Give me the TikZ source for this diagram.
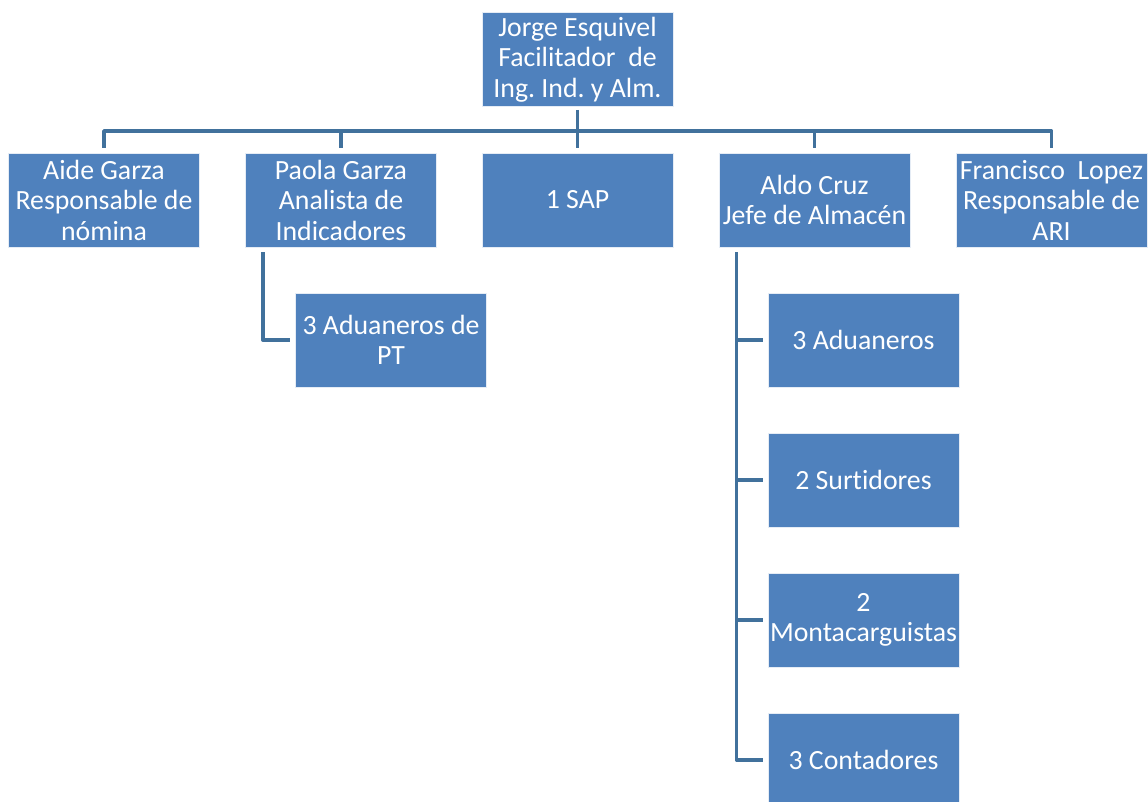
\documentclass[tikz,border=0pt]{standalone}
\usepackage{fontspec}
\setmainfont{Carlito}[Ligatures={NoCommon}]
\frenchspacing
\definecolor{boxblue}{HTML}{4F81BD}
\definecolor{linkblue}{HTML}{41719C}
\tikzset{
  orgbox/.style={rectangle, fill=boxblue, draw=white!85!boxblue, line width=0.8pt,
    minimum width=191pt, minimum height=94pt, inner sep=0pt, text=white,
    align=center, font=\fontsize{27.8}{30.5}\selectfont},
  link/.style={draw=linkblue, line width=3.6pt, line join=round, line cap=butt}
}
\begin{document}
\begin{tikzpicture}[x=1pt, y=-1pt]
  \useasboundingbox (0,0) rectangle (1148,802);

  % head
  \node[orgbox] (head) at (577.5,59.5) {Jorge Esquivel\\Facilitador\ \ de\\Ing. Ind. y Alm.};

  % first level
  \node[orgbox] (aide)  at (104,200)   {Aide Garza\\Responsable de\\nómina};
  \node[orgbox] (paola) at (341,200)   {Paola Garza\\Analista de\\Indicadores};
  \node[orgbox] (sap)   at (577.5,200) {1 SAP};
  \node[orgbox] (aldo)  at (814.5,200) {Aldo Cruz\\Jefe de Almacén};
  \node[orgbox] (fran)  at (1051.5,200){Francisco\ \ Lopez\\Responsable de\\ARI};

  % under Paola Garza
  \node[orgbox] (adpt) at (391,340) {3 Aduaneros de\\PT};

  % under Aldo Cruz
  \node[orgbox] (adua) at (863.5,340) {3 Aduaneros};
  \node[orgbox] (surt) at (863.5,480) {2 Surtidores};
  \node[orgbox] (mont) at (863.5,620) {2\\Montacarguistas};
  \node[orgbox] (cont) at (863.5,760) {3 Contadores};

  % connectors of the first level
  \coordinate (bar) at (577.5,131);
  \draw[link] ([yshift=-3pt]head.south) -- ([yshift=5pt]sap.north);
  \draw[link] ([yshift=5pt]aide.north) |- (bar) -| ([yshift=5pt]fran.north);
  \draw[link] ([yshift=5pt]paola.north) -- (paola.north |- bar);
  \draw[link] ([yshift=5pt]aldo.north) -- (aldo.north |- bar);

  % hanging connectors
  \coordinate (ptop) at ([xshift=18pt,yshift=-5pt]paola.south west);
  \draw[link] (ptop) |- ([xshift=-5pt]adpt.west);

  \coordinate (atop) at ([xshift=18pt,yshift=-5pt]aldo.south west);
  \draw[link] (atop) |- ([xshift=-5pt]cont.west);
  \draw[link] (atop |- adua.west) -- ([xshift=-5pt]adua.west);
  \draw[link] (atop |- surt.west) -- ([xshift=-5pt]surt.west);
  \draw[link] (atop |- mont.west) -- ([xshift=-5pt]mont.west);
\end{tikzpicture}
\end{document}
